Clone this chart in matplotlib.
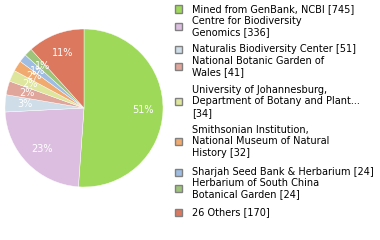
import numpy as np
import matplotlib
matplotlib.use("Agg")
import matplotlib.pyplot as plt
from matplotlib.patches import Rectangle

# 数据 (名称末尾的空格/换行决定计数放在哪里)
names = [
    "Mined from GenBank, NCBI ",
    "Centre for Biodiversity\nGenomics ",
    "Naturalis Biodiversity Center ",
    "National Botanic Garden of\nWales ",
    "University of Johannesburg,\nDepartment of Botany and Plant...\n",
    "Smithsonian Institution,\nNational Museum of Natural\nHistory ",
    "Sharjah Seed Bank & Herbarium ",
    "Herbarium of South China\nBotanical Garden ",
    "26 Others ",
]
counts = [745, 336, 51, 41, 34, 32, 24, 24, 170]
colors = ["#9fd95a", "#dcbfe0", "#cedde7", "#e0a59b", "#dde69c",
          "#f0aa6f", "#9fbde2", "#9dc47a", "#dc785e"]

W, H = 380, 240
fig = plt.figure(figsize=(W / 100, H / 100), dpi=100)

# 饼图位置 (像素)
cx, cy, r = 84, 108, 79
ax = fig.add_axes([(cx - r) / W, (H - cy - r) / H, 2 * r / W, 2 * r / H])


def pct(p):
    # 原图的百分比是向下取整的
    return f"{int(np.floor(p + 1e-9))}%"


ax.pie(counts, colors=colors, startangle=90, counterclock=False,
       autopct=pct, pctdistance=0.75, radius=1,
       wedgeprops=dict(edgecolor="white", linewidth=0.3),
       textprops=dict(color="white", fontsize=7))
ax.set_xlim(-1, 1)
ax.set_ylim(-1, 1)
ax.set_aspect("equal")
ax.axis("off")

# 图例 (手动绘制)
first_y = [9, 20.5, 49, 61, 90, 130, 172, 183, 212]
step = 11.5
for name, n, c, y0 in zip(names, counts, colors, first_y):
    lines = (name + f"[{n}]").split("\n")
    for i, line in enumerate(lines):
        fig.text(192 / W, 1 - (y0 + i * step) / H, line, fontsize=7,
                 va="center", ha="left", color="black")
    yc = y0 + (len(lines) - 1) * step / 2
    fig.add_artist(Rectangle((174.5 / W, 1 - (yc + 3.5) / H), 7 / W, 7 / H,
                             transform=fig.transFigure, facecolor=c,
                             edgecolor="#808080", linewidth=1))

fig.savefig("out.png", dpi=100)
